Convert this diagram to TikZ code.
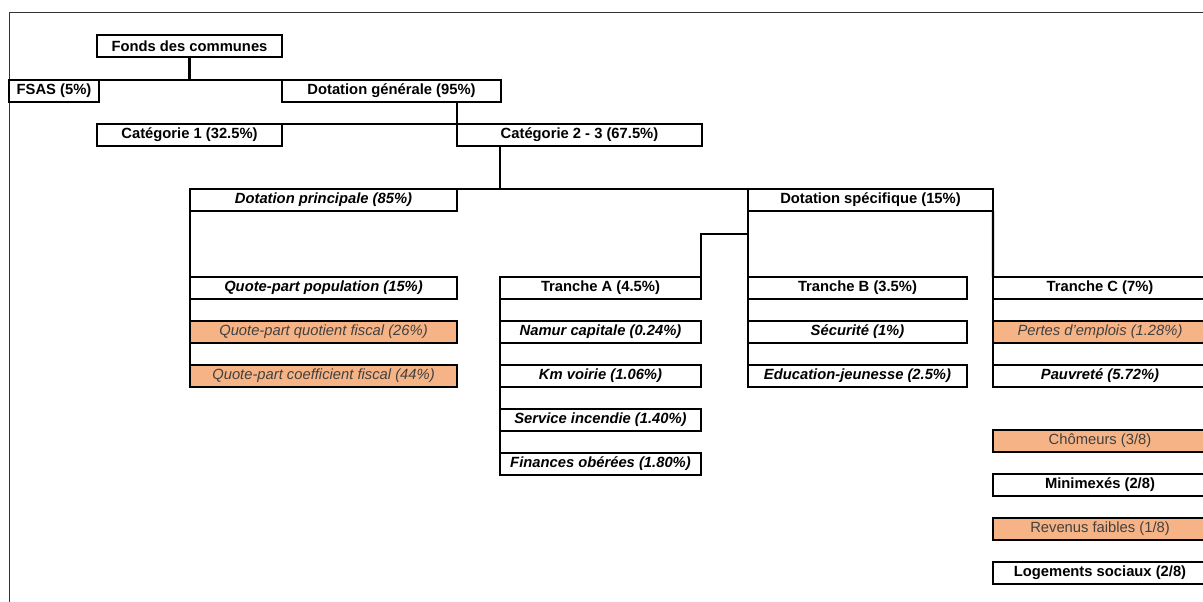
\documentclass[tikz,border=0pt]{standalone}
\usepackage{fontspec}
\setmainfont{Liberation Sans}
\usepackage{tikz}

\newlength\unitpx
\setlength\unitpx{0.025cm}
\newcommand\boxfont{\fontsize{10.5}{12}\selectfont}
\definecolor{peach}{RGB}{246,180,134}

\begin{document}
\begin{tikzpicture}[x=0.025cm,y=-0.025cm,
    box/.style={draw, line width=2pt, anchor=north west, inner sep=0pt, outer sep=0pt,
      minimum height=22\unitpx, font=\boxfont\bfseries},
    ital/.style={font=\boxfont\bfseries\itshape},
    peach/.style={fill=peach, text=black!75, font=\boxfont\itshape},
    peachup/.style={fill=peach, text=black!75, font=\boxfont},
    link/.style={line width=1.6pt}]
  \useasboundingbox (0,0) rectangle (1203,601);
  \draw[line width=0.6pt, black!80] (9,620) |- (1220,12);
  % level 1 and 2
  \node[box, minimum width=185\unitpx] (fonds) at (97,35) {Fonds des communes};
  \node[box, minimum width=90\unitpx] (fsas) at (9,80) {FSAS (5\%)};
  \node[box, minimum width=219\unitpx] (dotgen) at (282,80) {Dotation générale (95\%)};
  \node[box, minimum width=185\unitpx] (cat1) at (97,124) {Catégorie 1 (32.5\%)};
  \node[box, minimum width=245\unitpx] (cat23) at (457,124) {Catégorie 2 - 3 (67.5\%)};
  \node[box, ital, minimum width=267\unitpx] (dprin) at (190,189) {Dotation principale (85\%)};
  \node[box, minimum width=245\unitpx] (dspec) at (748,189) {Dotation spécifique (15\%)};
  % dotation principale
  \node[box, ital, minimum width=267\unitpx] (qppop) at (190,277) {Quote-part population (15\%)};
  \node[box, peach, minimum width=267\unitpx] (qpquot) at (190,321) {Quote-part quotient fiscal (26\%)};
  \node[box, peach, minimum width=267\unitpx] (qpcoef) at (190,365) {Quote-part coefficient fiscal (44\%)};
  % tranches
  \node[box, minimum width=201\unitpx] (trA) at (500,277) {Tranche A (4.5\%)};
  \node[box, ital, minimum width=201\unitpx] (namur) at (500,321) {Namur capitale (0.24\%)};
  \node[box, ital, minimum width=201\unitpx] (kmv) at (500,365) {Km voirie (1.06\%)};
  \node[box, ital, minimum width=201\unitpx] (servinc) at (500,409) {Service incendie (1.40\%)};
  \node[box, ital, minimum width=201\unitpx] (finob) at (500,453) {Finances obérées (1.80\%)};
  \node[box, minimum width=219\unitpx] (trB) at (748,277) {Tranche B (3.5\%)};
  \node[box, ital, minimum width=219\unitpx] (secu) at (748,321) {Sécurité (1\%)};
  \node[box, ital, minimum width=219\unitpx] (edujeu) at (748,365) {Education-jeunesse (2.5\%)};
  \node[box, minimum width=214\unitpx] (trC) at (993,277) {Tranche C (7\%)};
  \node[box, peach, minimum width=214\unitpx] (pertes) at (993,321) {Pertes d'emplois (1.28\%)};
  \node[box, ital, minimum width=214\unitpx] (pauv) at (993,365) {Pauvreté (5.72\%)};
  \node[box, peachup, minimum width=214\unitpx] (chom) at (993,430) {Chômeurs (3/8)};
  \node[box, minimum width=214\unitpx] (minim) at (993,474) {Minimexés (2/8)};
  \node[box, peachup, minimum width=214\unitpx] (revfai) at (993,518) {Revenus faibles (1/8)};
  \node[box, minimum width=214\unitpx] (logsoc) at (993,562) {Logements sociaux (2/8)};
  \coordinate (bjoin) at (748,234);
  % connectors
  \draw[link] (fonds.south) -- (fonds.south |- fsas.north);
  \draw[link] (fsas.north east) -- (dotgen.north west);
  \draw[link] (dotgen.south -| cat23.west) -- (cat23.north west);
  \draw[link] (cat1.north east) -- (cat23.north west);
  \draw[link] (cat23.south -| trA.west) -- (trA.west |- dprin.north);
  \draw[link] (dprin.north east) -- (dspec.north west);
  \draw[link] (dprin.south west) -- (qppop.north west);
  \draw[link] (qppop.south west) -- (qpcoef.north west);
  \draw[link] (trA.south west) -- (finob.north west);
  \draw[link] (trA.north east) |- (bjoin);
  \draw[link] (dspec.south west) -- (edujeu.north west);
  \draw[link] (dspec.south east) -- (trC.north west);
  \draw[link] (trC.south west) -- (pauv.north west);
\end{tikzpicture}
\end{document}
